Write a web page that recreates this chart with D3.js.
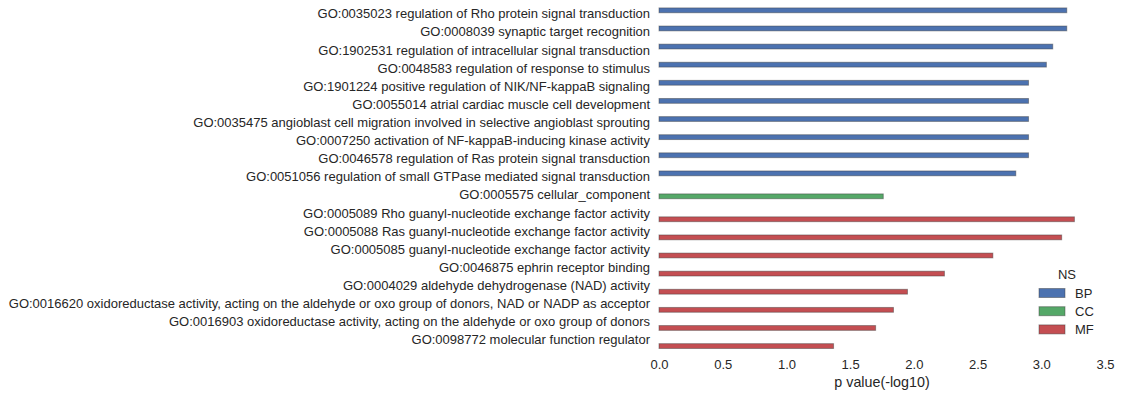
<!DOCTYPE html>
<html><head><meta charset="utf-8">
<script src="https://cdn.jsdelivr.net/npm/d3@7/dist/d3.min.js"></script>
<style>
body{margin:0;background:#fff;}
text{font-family:"Liberation Sans",Arial,sans-serif;fill:#262626;}
</style></head>
<body><svg id="c" width="1121" height="397"></svg>
<script>
const categories = [
"GO:0035023 regulation of Rho protein signal transduction",
"GO:0008039 synaptic target recognition",
"GO:1902531 regulation of intracellular signal transduction",
"GO:0048583 regulation of response to stimulus",
"GO:1901224 positive regulation of NIK/NF-kappaB signaling",
"GO:0055014 atrial cardiac muscle cell development",
"GO:0035475 angioblast cell migration involved in selective angioblast sprouting",
"GO:0007250 activation of NF-kappaB-inducing kinase activity",
"GO:0046578 regulation of Ras protein signal transduction",
"GO:0051056 regulation of small GTPase mediated signal transduction",
"GO:0005575 cellular_component",
"GO:0005089 Rho guanyl-nucleotide exchange factor activity",
"GO:0005088 Ras guanyl-nucleotide exchange factor activity",
"GO:0005085 guanyl-nucleotide exchange factor activity",
"GO:0046875 ephrin receptor binding",
"GO:0004029 aldehyde dehydrogenase (NAD) activity",
"GO:0016620 oxidoreductase activity, acting on the aldehyde or oxo group of donors, NAD or NADP as acceptor",
"GO:0016903 oxidoreductase activity, acting on the aldehyde or oxo group of donors",
"GO:0098772 molecular function regulator"
];
const namespaces = ["BP","BP","BP","BP","BP","BP","BP","BP","BP","BP","CC","MF","MF","MF","MF","MF","MF","MF","MF"];
const values = [3.20,3.20,3.09,3.04,2.90,2.90,2.90,2.90,2.90,2.80,1.76,3.26,3.16,2.62,2.24,1.95,1.84,1.70,1.37];
const hues = ["BP","CC","MF"];
const xTicks = [0,0.5,1,1.5,2,2.5,3,3.5];

const colors = {BP:"#4C72B0", CC:"#55A868", MF:"#C44E52"};
const svg = d3.select("#c");
const pLeft = 659, pRight = 1105, pTop = 6.1, pBottom = 350.3;
const x = d3.scaleLinear().domain([0,3.5]).range([pLeft,pRight]);
const y = d3.scaleBand().domain(categories).range([pTop,pBottom]).paddingInner(0).paddingOuter(0);
const sub = d3.scaleBand().domain(hues).range([-0.4*y.bandwidth(),0.4*y.bandwidth()]);

svg.selectAll("rect.bar").data(categories).enter().append("rect")
  .attr("class","bar")
  .attr("x", x(0))
  .attr("y",(d,i)=> y(d)+y.bandwidth()/2 + sub(namespaces[i]))
  .attr("width",(d,i)=> x(values[i])-x(0))
  .attr("height", sub.bandwidth())
  .attr("fill",(d,i)=>colors[namespaces[i]])
  .attr("stroke","rgba(60,60,60,0.45)")
  .attr("stroke-width",1);

const yAxis = d3.axisLeft(y).tickSize(0).tickPadding(9);
const gy = svg.append("g").attr("transform",`translate(${pLeft},-1)`).call(yAxis);
gy.select(".domain").remove();
gy.selectAll("text").attr("font-size",13).style("font-family","Liberation Sans, Arial, sans-serif").attr("fill","#262626");

const xAxis = d3.axisBottom(x).tickValues(xTicks).tickFormat(d3.format(".1f")).tickSize(0).tickPadding(9);
const gx = svg.append("g").attr("transform",`translate(0,${pBottom})`).call(xAxis);
gx.select(".domain").remove();
gx.selectAll("text").attr("font-size",13).style("font-family","Liberation Sans, Arial, sans-serif").attr("fill","#262626");

svg.append("text").attr("x",(pLeft+pRight)/2).attr("y",387).attr("text-anchor","middle")
  .attr("font-size",14.3).text("p value(-log10)");

const lg = svg.append("g");
lg.append("text").attr("x",1067).attr("y",279).attr("text-anchor","middle").attr("font-size",13).text("NS");
hues.forEach((h,i)=>{
  const yy = 288.5 + i*18.2;
  lg.append("rect").attr("x",1039).attr("y",yy).attr("width",26).attr("height",9)
    .attr("fill",colors[h]).attr("stroke","rgba(60,60,60,0.45)").attr("stroke-width",1);
  lg.append("text").attr("x",1075).attr("y",yy+9.5).attr("font-size",13).text(h);
});
</script></body></html>
